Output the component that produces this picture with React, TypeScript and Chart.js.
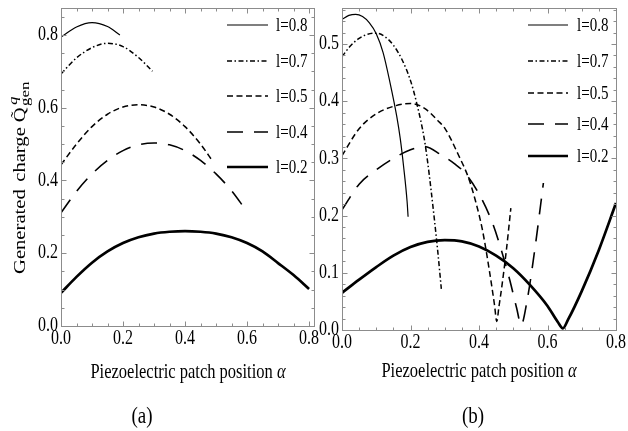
import { useEffect, useRef } from "react";
import { Chart, registerables } from "chart.js";

Chart.register(...registerables);

const FONT = '"Liberation Serif", "Times New Roman", serif';
const INK = "#000";
const FRAME = "#8c8c8c";

const seriesNames = ["l=0.8", "l=0.7", "l=0.5", "l=0.4", "l=0.2"];

// ---- panel (a): generated charge vs patch position ----
const alphaA08 = [0, 0.05, 0.1, 0.15, 0.19];
const chargeA08 = [0.794, 0.822, 0.834, 0.823, 0.8];
const alphaA07 = [0, 0.05, 0.1, 0.15, 0.2, 0.25, 0.295];
const chargeA07 = [0.693, 0.737, 0.765, 0.777, 0.768, 0.738, 0.7];
const alphaA05 = [0, 0.05, 0.1, 0.15, 0.2, 0.25, 0.3, 0.35, 0.4, 0.45, 0.49];
const chargeA05 = [0.443, 0.5, 0.548, 0.582, 0.602, 0.608, 0.602, 0.582, 0.548, 0.5, 0.452];
const alphaA04 = [0, 0.05, 0.1, 0.15, 0.2, 0.25, 0.3, 0.35, 0.4, 0.45, 0.5, 0.55, 0.595];
const chargeA04 = [0.311, 0.37, 0.418, 0.455, 0.482, 0.498, 0.503, 0.498, 0.482, 0.455, 0.418, 0.372, 0.32];
const alphaA02 = [0, 0.05, 0.1, 0.15, 0.2, 0.25, 0.3, 0.35, 0.4, 0.45, 0.5, 0.55, 0.6, 0.65, 0.7, 0.75, 0.8];
const chargeA02 = [0.091, 0.135, 0.174, 0.205, 0.228, 0.244, 0.254, 0.259, 0.261, 0.259, 0.254, 0.244, 0.228, 0.205, 0.173, 0.14, 0.102];

// ---- panel (b) ----
const alphaB08 = [0, 0.02, 0.04, 0.06, 0.08, 0.1, 0.12, 0.14, 0.16, 0.17, 0.18, 0.19, 0.193];
const chargeB08 = [0.543, 0.55, 0.552, 0.548, 0.537, 0.518, 0.485, 0.433, 0.373, 0.335, 0.285, 0.225, 0.198];
const alphaB07 = [0, 0.025, 0.05, 0.075, 0.1, 0.125, 0.15, 0.175, 0.2, 0.22, 0.24, 0.25, 0.26, 0.27, 0.28, 0.29];
const chargeB07 = [0.478, 0.497, 0.51, 0.517, 0.519, 0.513, 0.498, 0.473, 0.436, 0.392, 0.335, 0.294, 0.245, 0.192, 0.135, 0.072];
const alphaB05 = [0, 0.05, 0.1, 0.15, 0.2, 0.24, 0.28, 0.3, 0.34, 0.37, 0.39, 0.41, 0.43, 0.445, 0.452, 0.458, 0.466, 0.48, 0.493];
const chargeB05 = [0.305, 0.352, 0.378, 0.391, 0.396, 0.388, 0.366, 0.353, 0.306, 0.265, 0.225, 0.175, 0.105, 0.045, 0.015, 0.04, 0.073, 0.14, 0.213];
const alphaB04 = [0, 0.05, 0.1, 0.15, 0.2, 0.24, 0.29, 0.33, 0.36, 0.4, 0.44, 0.47, 0.49, 0.51, 0.523, 0.54, 0.565, 0.588];
const chargeB04 = [0.21, 0.255, 0.28, 0.3, 0.315, 0.321, 0.306, 0.29, 0.274, 0.238, 0.186, 0.13, 0.087, 0.038, 0.009, 0.05, 0.15, 0.257];
const alphaB02 = [0, 0.05, 0.1, 0.15, 0.2, 0.25, 0.3, 0.35, 0.4, 0.45, 0.5, 0.55, 0.6, 0.63, 0.645, 0.66, 0.7, 0.75, 0.8];
const chargeB02 = [0.065, 0.088, 0.11, 0.13, 0.145, 0.154, 0.157, 0.155, 0.146, 0.13, 0.108, 0.078, 0.042, 0.014, 0.003, 0.018, 0.068, 0.14, 0.222];

// ---- axis ticks ----
const ticksAX = [0, 0.2, 0.4, 0.6, 0.8];
const ticksAY = [0, 0.2, 0.4, 0.6, 0.8];
const ticksBX = [0, 0.2, 0.4, 0.6, 0.8];
const ticksBY = [0, 0.1, 0.2, 0.3, 0.4, 0.5];

const lineStyles = [
  { width: 1.2, dash: [] as number[] },
  { width: 1.5, dash: [5, 2.5, 1.5, 2.5] },
  { width: 1.5, dash: [6, 3.5] },
  { width: 1.6, dash: [16, 11] },
  { width: 2.7, dash: [] as number[] },
];

function buildSets(alphas: number[][], charges: number[][]) {
  return seriesNames.map((name, i) => ({
    label: name,
    data: alphas[i].map((a, k) => ({ x: a, y: charges[i][k] })),
    borderColor: "#000",
    borderWidth: lineStyles[i].width,
    borderDash: lineStyles[i].dash,
    borderCapStyle: "butt",
    pointRadius: 0,
    fill: false,
    cubicInterpolationMode: "monotone",
  }));
}

// text drawn slightly tall and narrow, like the plot's typeface
function drawText(
  ctx: CanvasRenderingContext2D,
  s: string,
  x: number,
  y: number,
  size: number,
  align: CanvasTextAlign,
  baseline: CanvasTextBaseline,
  italic = false,
  sy = 1.25
) {
  ctx.save();
  ctx.translate(x, y);
  ctx.scale(1, sy);
  ctx.font = `${italic ? "italic " : ""}${size}px ${FONT}`;
  ctx.textAlign = align;
  ctx.textBaseline = baseline;
  ctx.fillStyle = INK;
  ctx.fillText(s, 0, 0);
  ctx.restore();
}

const decoPlugin = {
  id: "deco",
  afterDraw(chart: any, _args: any, opts: any) {
    const { ctx, chartArea: ca } = chart;
    const xs = chart.scales.x;
    const ys = chart.scales.y;
    const L = Math.round(ca.left) + 0.5;
    const R = Math.round(ca.right) + 0.5;
    const T = Math.round(ca.top) + 0.5;
    const B = Math.round(ca.bottom) + 0.5;
    ctx.save();
    ctx.strokeStyle = FRAME;
    ctx.lineWidth = 1;
    ctx.setLineDash([]);
    ctx.strokeRect(L, T, R - L, B - T);

    const isMajor = (v: number, majors: number[]) => majors.some((m) => Math.abs(m - v) < 1e-6);
    // x ticks, inward on bottom and top
    const nx = Math.round(xs.max / opts.xMinor);
    for (let i = 0; i <= nx; i++) {
      const v = i * opts.xMinor;
      if (v > xs.max + 1e-9) break;
      const px = Math.round(xs.getPixelForValue(v)) + 0.5;
      const len = isMajor(v, opts.xTicks) ? 5 : 3;
      ctx.beginPath();
      ctx.moveTo(px, B);
      ctx.lineTo(px, B - len);
      ctx.moveTo(px, T);
      ctx.lineTo(px, T + len);
      ctx.stroke();
    }
    // y ticks, inward on left and right
    const ny = Math.round(ys.max / opts.yMinor);
    for (let i = 0; i <= ny; i++) {
      const v = i * opts.yMinor;
      if (v > ys.max + 1e-9) break;
      const py = Math.round(ys.getPixelForValue(v)) + 0.5;
      const len = isMajor(v, opts.yTicks) ? 5 : 3;
      ctx.beginPath();
      ctx.moveTo(L, py);
      ctx.lineTo(L + len, py);
      ctx.moveTo(R, py);
      ctx.lineTo(R - len, py);
      ctx.stroke();
    }
    ctx.restore();

    // tick labels
    for (const v of opts.xTicks) {
      drawText(ctx, v.toFixed(1), xs.getPixelForValue(v), ca.bottom + 12.5, 16, "center", "middle");
    }
    for (const v of opts.yTicks) {
      drawText(ctx, v.toFixed(1), ca.left - 3, ys.getPixelForValue(v), 16, "right", "middle");
    }

    // legend
    const lg = opts.legend;
    chart.data.datasets.forEach((ds: any, i: number) => {
      const y = lg.ys[i];
      ctx.save();
      ctx.strokeStyle = "#000";
      ctx.lineWidth = ds.borderWidth;
      ctx.setLineDash(ds.borderDash);
      ctx.beginPath();
      ctx.moveTo(lg.x1, y);
      ctx.lineTo(lg.x2, y);
      ctx.stroke();
      ctx.restore();
      drawText(ctx, ds.label, lg.tx, y + 1, 15, "left", "middle");
    });

    // x axis title
    const t1 = "Piezoelectric patch position ";
    ctx.save();
    ctx.font = `16.5px ${FONT}`;
    const w1 = ctx.measureText(t1).width;
    ctx.font = `italic 16.5px ${FONT}`;
    const w2 = ctx.measureText("α").width;
    ctx.restore();
    const sx = opts.xTitle.cx - (w1 + w2) / 2;
    drawText(ctx, t1, sx, opts.xTitle.y, 16.5, "left", "alphabetic");
    drawText(ctx, "α", sx + w1, opts.xTitle.y, 16.5, "left", "alphabetic", true);

    // panel tag
    drawText(ctx, opts.tag.text, opts.tag.cx, opts.tag.cy, 19, "center", "middle", false, 1.2);

    // y axis title (left panel only)
    if (opts.yTitle) {
      const { x, y } = opts.yTitle;
      ctx.save();
      ctx.translate(x, y);
      ctx.rotate(-Math.PI / 2);
      ctx.scale(1.25, 1);
      ctx.fillStyle = INK;
      ctx.textBaseline = "alphabetic";
      ctx.textAlign = "left";
      ctx.font = `16.5px ${FONT}`;
      let off = 0;
      ctx.fillText("Generated", off, 0);
      off += ctx.measureText("Generated").width + 6;
      ctx.fillText("charge", off, 0);
      off += ctx.measureText("charge").width + 4;
      ctx.fillText("Q", off, 0);
      const qw = ctx.measureText("Q").width;
      ctx.font = `15px ${FONT}`;
      ctx.textAlign = "center";
      ctx.fillText("\u02DC", off + qw / 2, -4);
      ctx.textAlign = "left";
      off += qw + 1;
      ctx.font = `italic 13px ${FONT}`;
      ctx.fillText("q", off + 1, -8);
      ctx.font = `13.5px ${FONT}`;
      ctx.fillText("gen", off, 4);
      ctx.restore();
    }
  },
};

function makeConfig(sets: any[], xMax: number, yMax: number, padding: any, deco: any): any {
  return {
    type: "line",
    data: { datasets: sets },
    options: {
      animation: false,
      responsive: false,
      devicePixelRatio: 1,
      layout: { padding },
      events: [],
      scales: {
        x: { type: "linear", min: 0, max: xMax, display: false },
        y: { type: "linear", min: 0, max: yMax, display: false },
      },
      plugins: {
        legend: { display: false },
        tooltip: { enabled: false },
        deco,
      },
    },
    plugins: [decoPlugin],
  };
}

export default function App() {
  const refA = useRef<HTMLCanvasElement | null>(null);
  const refB = useRef<HTMLCanvasElement | null>(null);

  useEffect(() => {
    document.body.style.margin = "0";
    const setsA = buildSets(
      [alphaA08, alphaA07, alphaA05, alphaA04, alphaA02],
      [chargeA08, chargeA07, chargeA05, chargeA04, chargeA02]
    );
    const setsB = buildSets(
      [alphaB08, alphaB07, alphaB05, alphaB04, alphaB02],
      [chargeB08, chargeB07, chargeB05, chargeB04, chargeB02]
    );
    const chartA = new Chart(
      refA.current!,
      makeConfig(setsA, 0.816, 0.874, { left: 61, right: 314, top: 8, bottom: 105 }, {
        xTicks: ticksAX,
        yTicks: ticksAY,
        xMinor: 0.05,
        yMinor: 0.05,
        legend: { x1: 227, x2: 268, tx: 276, ys: [25, 61, 96, 132, 167] },
        xTitle: { cx: 188, y: 378 },
        tag: { text: "(a)", cx: 142, cy: 417 },
        yTitle: { x: 25, y: 274 },
      })
    );
    const chartB = new Chart(
      refB.current!,
      makeConfig(setsB, 0.8, 0.563, { left: 342, right: 12, top: 8, bottom: 101 }, {
        xTicks: ticksBX,
        yTicks: ticksBY,
        xMinor: 0.05,
        yMinor: 0.02,
        legend: { x1: 528, x2: 568, tx: 577, ys: [25, 61, 93, 124, 156] },
        xTitle: { cx: 479, y: 377 },
        tag: { text: "(b)", cx: 473, cy: 417 },
        yTitle: null,
      })
    );
    return () => {
      chartA.destroy();
      chartB.destroy();
    };
  }, []);

  const canvasStyle: React.CSSProperties = { position: "absolute", left: 0, top: 0 };
  return (
    <div style={{ position: "relative", width: 628, height: 431, background: "#fff" }}>
      <canvas ref={refA} width={628} height={431} style={canvasStyle} />
      <canvas ref={refB} width={628} height={431} style={canvasStyle} />
    </div>
  );
}
